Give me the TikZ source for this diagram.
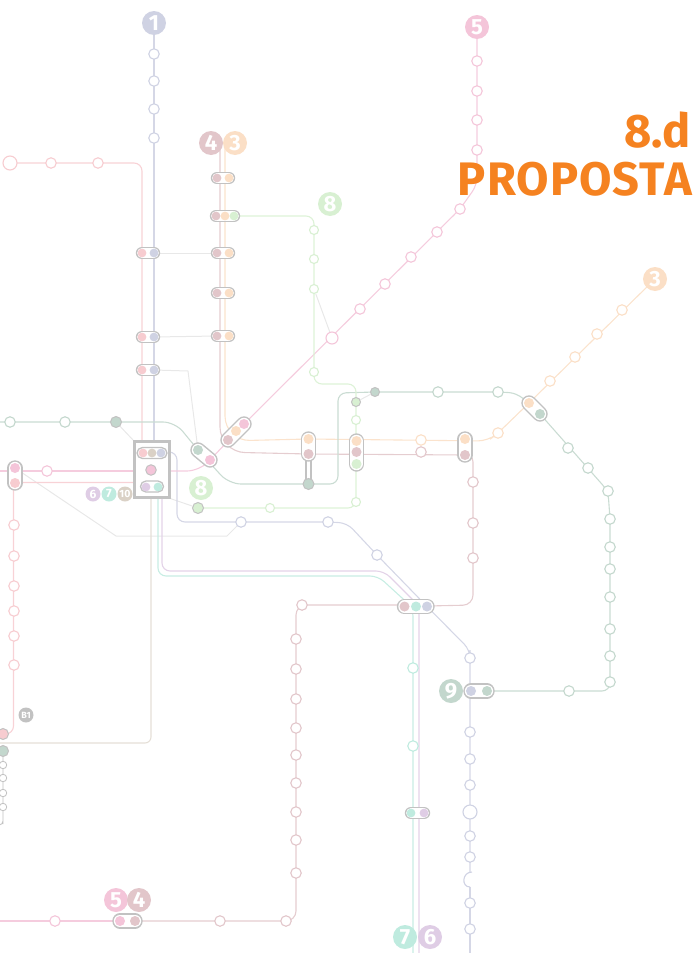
\documentclass[tikz,border=0pt]{standalone}
\usepackage{fontspec}
\setmainfont{Fira Sans}
\definecolor{lav}{HTML}{CFD2E3}
\definecolor{red}{HTML}{F7CCD0}
\definecolor{pea}{HTML}{FBDFC6}
\definecolor{dus}{HTML}{E2C6CA}
\definecolor{pin}{HTML}{F4C5D9}
\definecolor{pur}{HTML}{DFCDE5}
\definecolor{min}{HTML}{BFEBDF}
\definecolor{gre}{HTML}{D8F0D2}
\definecolor{sag}{HTML}{C3D7CD}
\definecolor{tau}{HTML}{DAD1C6}
\definecolor{gry}{HTML}{E8E8E8}
\definecolor{cbd}{HTML}{C2C2C2}
\definecolor{ora}{HTML}{F58220}
\pgfdeclarelayer{lines}\pgfdeclarelayer{caps}
\pgfsetlayers{lines,caps,main}
\tikzset{
 x=1pt,y=-1pt,
 stn/.style={circle,draw=#1,fill=white,line width=1.1pt,minimum size=10.5pt,inner sep=0pt},
 bigstn/.style={stn=#1,minimum size=14pt},
 smallstn/.style={stn=#1,minimum size=9pt},
 dot/.style={circle,fill=#1,minimum size=10pt,inner sep=0pt},
 sdot/.style={circle,fill=#1,minimum size=8.8pt,inner sep=0pt},
 gdot/.style={circle,fill=#1,draw=cbd,line width=1pt,minimum size=11pt,inner sep=0pt},
 badge/.style={circle,fill=#1,text=white,minimum size=24pt,inner sep=0pt,font=\fontsize{22}{22}\selectfont\bfseries},
 minibadge/.style={circle,fill=#1,text=white,minimum size=15pt,inner sep=0pt,font=\fontsize{12}{12}\selectfont\bfseries},
 lin/.style={draw=#1!88!white,line width=1.1pt,rounded corners=8pt},
 conn/.style={draw=gry,line width=1pt},
}
\newcommand\tubecap[2]{\begin{pgfonlayer}{caps}
 \draw[cbd,line width=15.4pt,line cap=round] (#1.center)--(#2.center);
 \draw[white,line width=12.4pt,line cap=round] (#1.center)--(#2.center);
\end{pgfonlayer}}
\newcommand\tubesmall[2]{\begin{pgfonlayer}{caps}
 \draw[cbd,line width=12.4pt,line cap=round] (#1.center)--(#2.center);
 \draw[white,line width=9.8pt,line cap=round] (#1.center)--(#2.center);
\end{pgfonlayer}}
\begin{document}
\begin{tikzpicture}
\useasboundingbox (0,0) rectangle (696,953);
% title
\node[anchor=east,text=ora,font=\fontsize{47}{47}\selectfont\bfseries,inner sep=0pt] (t1) at (691,130) {8.d};
\node[anchor=east,text=ora,font=\fontsize{47}{47}\selectfont\bfseries,inner sep=0pt] (t2) at (692,179) {\addfontfeature{LetterSpace=2.3}PROPOSTA};
% badges
\node[badge=lav] (b1) at (154,23) {1};
\node[badge=pin] (b5t) at (477,27) {5};
\node[badge=dus] (b4t) at (211,143) {4};
\node[badge=pea] (b3t) at (235,143) {3};
\node[badge=gre] (b8t) at (330,204) {8};
\node[badge=pea] (b3r) at (655,279) {3};
\node[badge=gre] (b8m) at (201,488) {8};
\node[badge=sag] (b9) at (451,691) {9};
\node[badge=pin] (b5b) at (116,900) {5};
\node[badge=dus] (b4b) at (139,900) {4};
\node[badge=min] (b7) at (405,937) {7};
\node[badge=pur] (b6) at (430,937) {6};
\node[minibadge=pur] (m6) at (93,494) {6};
\node[minibadge=min] (m7) at (109,494) {7};
\node[minibadge=tau,font=\fontsize{10.5}{10.5}\selectfont\bfseries] (m10) at (125,494) {10};
\node[minibadge=cbd,font=\fontsize{9}{9}\selectfont\bfseries] (mb1) at (26,715) {B1};
% line 1 stations
\foreach \n/\y in {a/54,b/81,c/109,d/138}{\node[stn=lav] (l1\n) at (154,\y) {};}
\node[stn=lav] (l1e) at (241,522) {};
\node[stn=lav] (l1f) at (328,522) {};
\node[stn=lav] (l1g) at (377,555) {};
\node[stn=lav] (l1h) at (470,658) {};
\foreach \n/\y in {i/732,j/759,k/785,m/836,o/857,p/903,q/929}{\node[stn=lav] (l1\n) at (470,\y) {};}
\node[bigstn=lav] (l1l) at (470,812) {};
% line 2
\node[bigstn=red] (l2a) at (10,163) {};
\node[stn=red] (l2b) at (51,163) {};
\node[stn=red] (l2c) at (98,163) {};
\foreach \n/\y in {d/525,e/556,f/586,g/611,h/636,i/665}{\node[stn=red] (l2\n) at (14,\y) {};}
\node[gdot=red] (l2j) at (3,734) {};
% line 5
\foreach \n/\x/\y in {a/477/61,b/477/91,c/477/120,d/477/150,e/460/209,f/437/232,g/411/257,h/385/284,i/360/309}{\node[stn=pin] (l5\n) at (\x,\y) {};}
\node[stn=pin,minimum size=12pt] (l5j) at (332,338) {};
\node[stn=pin] (l5k) at (47,471) {};
\node[stn=pin] (l5l) at (55,921) {};
% line 4
\foreach \n/\x/\y in {a/220/921,b/286/921,c/296/873,d/296/840,e/296/812,f/296/783,g/296/755,h/296/728,i/296/699,j/296/669,k/296/639,l/302/605,m/473/558,n/473/523,o/473/482,p/421/452}{\node[stn=dus] (l4\n) at (\x,\y) {};}
% line 3
\foreach \n/\x/\y in {a/421/440,b/498/433,c/550/381,d/575/357,e/597/334,f/622/310}{\node[stn=pea] (l3\n) at (\x,\y) {};}
% line 9
\foreach \n/\x/\y in {a/10/422,b/65/422,c/438/392,d/498/392,e/568/448,f/588/468,g/608/491,h/610/519,i/610/547,j/610/569,k/610/597,l/610/629,m/610/656,n/610/682,o/569/691}{\node[stn=sag] (l9\n) at (\x,\y) {};}
\node[gdot=sag] (l9p) at (116,422) {};
\node[gdot=sag,minimum size=9pt] (l9q) at (375,392) {};
% line 8
\node[smallstn=gre] (l8a) at (314,230) {};
\node[smallstn=gre] (l8b) at (314,259) {};
\node[smallstn=gre] (l8c) at (314,289) {};
\node[smallstn=gre] (l8d) at (314,372) {};
\node[gdot=gre,minimum size=9pt] (l8e) at (356,402) {};
\node[smallstn=gre] (l8f) at (356,420) {};
\node[smallstn=gre] (l8g) at (356,502) {};
\node[smallstn=gre] (l8h) at (270,508) {};
\node[gdot=gre] (l8i) at (198,508) {};
% line 7
\node[stn=min] (l7a) at (413,668) {};
\node[stn=min] (l7b) at (413,746) {};
% bottom-left cluster
\node[gdot=sag] (cla) at (3,751) {};
\foreach \n/\y in {b/765,c/778,d/793,e/807}{\node[circle,draw=cbd,fill=white,line width=.8pt,minimum size=7.5pt,inner sep=0pt] (cl\n) at (3,\y) {};}
% capsules
\node[sdot=dus] (k1a) at (217,178) {}; \node[sdot=pea] (k1b) at (229,178) {}; \tubesmall{k1a}{k1b}
\node[sdot=dus] (k2a) at (216,216) {}; \node[sdot=pea] (k2b) at (225,216) {}; \node[sdot=gre] (k2c) at (234,216) {}; \tubesmall{k2a}{k2c}
\node[sdot=dus] (k3a) at (217,253) {}; \node[sdot=pea] (k3b) at (229,253) {}; \tubesmall{k3a}{k3b}
\node[sdot=dus] (k4a) at (217,293) {}; \node[sdot=pea] (k4b) at (229,293) {}; \tubesmall{k4a}{k4b}
\node[sdot=dus] (k5a) at (217,336) {}; \node[sdot=pea] (k5b) at (229,336) {}; \tubesmall{k5a}{k5b}
\node[sdot=red] (k6a) at (142,253) {}; \node[sdot=lav] (k6b) at (154,253) {}; \tubesmall{k6a}{k6b}
\node[sdot=red] (k7a) at (142,337) {}; \node[sdot=lav] (k7b) at (154,337) {}; \tubesmall{k7a}{k7b}
\node[sdot=red] (k8a) at (142,370) {}; \node[sdot=lav] (k8b) at (154,370) {}; \tubesmall{k8a}{k8b}
\node[dot=dus] (k9a) at (228,440) {}; \node[dot=pea] (k9b) at (236,431) {}; \node[dot=pin] (k9c) at (244,424) {}; \tubecap{k9a}{k9c}
\node[dot=sag] (k10a) at (198,450) {}; \node[dot=pin] (k10b) at (210,460) {}; \tubecap{k10a}{k10b}
\node[dot=pea] (k11a) at (308.5,439) {}; \node[dot=dus] (k11b) at (308.5,454) {}; \tubecap{k11a}{k11b}
\node[dot=pea] (k12a) at (356.5,441) {}; \node[dot=dus] (k12b) at (356.5,452) {}; \node[dot=gre] (k12c) at (356.5,464) {}; \tubecap{k12a}{k12c}
\node[dot=pea] (k13a) at (465,439) {}; \node[dot=dus] (k13b) at (465,455) {}; \tubecap{k13a}{k13b}
\node[dot=pea] (k14a) at (529,403) {}; \node[dot=sag] (k14b) at (540,414) {}; \tubecap{k14a}{k14b}
\node[dot=pin] (k15a) at (15,468) {}; \node[dot=red] (k15b) at (15,483) {}; \tubecap{k15a}{k15b}
\node[dot=dus] (k16a) at (404.5,606.5) {}; \node[dot=min] (k16b) at (416,606.5) {}; \node[dot=lav] (k16c) at (427,606.5) {}; \tubecap{k16a}{k16c}
\node[dot=lav] (k17a) at (471,691) {}; \node[dot=sag] (k17b) at (487,691) {}; \tubecap{k17a}{k17b}
\node[sdot=min] (k18a) at (411,813) {}; \node[sdot=pur] (k18b) at (424,813) {}; \tubesmall{k18a}{k18b}
\node[dot=pin] (k19a) at (120,921) {}; \node[dot=dus] (k19b) at (135,921) {}; \tubecap{k19a}{k19b}
\node[gdot=sag] (k20) at (308.5,484) {};
% central box
\node[draw=cbd,fill=white,line width=2.3pt,minimum width=35pt,minimum height=56pt,inner sep=0pt] (box) at (152,469.5) {};
\draw[cbd,fill=white,line width=1.3pt,rounded corners=5.5pt] (137,447.5) rectangle (167,458.5);
\draw[cbd,fill=white,line width=1.3pt,rounded corners=5.5pt] (140.5,481) rectangle (163.5,492);
\node[sdot=red] (ba) at (143,453) {}; \node[sdot=tau] (bb) at (152,453) {}; \node[sdot=lav] (bc) at (161,453) {};
\node[gdot=pin,minimum size=10.5pt] (bd) at (151,470) {};
\node[sdot=pur] (be) at (146,487) {}; \node[sdot=min] (bf) at (158,487) {};
% connectors
\begin{pgfonlayer}{lines}
\coordinate (cp1) at (116,536); \coordinate (cp2) at (227,536);
\coordinate (cp3) at (188,371);
\draw[conn] (l9p) -- (box.north west);
\draw[conn] (box.south east) -- (l8i);
\draw[conn] (l8c) -- (l5j);
\draw[conn] (k8b) -- (cp3) -- (k10a);
\draw[conn] (k6b) -- (k3a);
\draw[conn] (k7b) -- (k5a);
\draw[conn] (l8e) -- (l9q);
\draw[conn] (k15a) -- (cp1) -- (cp2) -- (l1e);
\draw[cbd,line width=1.6pt] (306,455) -- (306,483);
\draw[cbd,line width=1.6pt] (311,455) -- (311,483);
% line 1
\draw[lin=lav] (b1.center) -- (154,441);
\draw[lin=lav] (170,452) -- (177,452) -- (177,522) -- (l1e.center) -- (l1f.center) -- (347,523) -- (l1g.center) -- (k16c.center) -- (470,650) -- (l1h.center) -- (470,872);
\draw[lin=lav] (470,887) -- (470,953);
\draw[draw=lav,line width=1.1pt] (472,872) .. controls (462,872) and (461,887) .. (470,887);
% line 2
\draw[lin=red] (l2a.center) -- (142,163) -- (142,441);
\draw[lin=red] (134,482.5) -- (15,482.5) -- (13.5,482.5) -- (13.5,734) -- (l2j.center);
% line 5
\draw[lin=pin] (b5t.center) -- (477,185) -- (l5e.center) -- (k9c.center) -- (k10b.center);
\draw[lin=pin,rounded corners=12pt] (k10b.center) -- (199,471) -- (170,471);
\draw[lin=pin] (0,471) -- (134,471);
\draw[lin=pin] (0,921) -- (k19a.center);
% line 4
\draw[lin=dus,rounded corners=10pt] (k19b.center) -- (296,921) -- (296,605) -- (404,605);
\draw[lin=dus,rounded corners=10pt] (k16a.center) -- (473,605) -- (473,452) -- (k13b.center);
\draw[lin=dus,rounded corners=25pt] (220,143) -- (220,452) -- (k11b.center);
\draw[lin=dus] (k11b.center) -- (k13b.center);
% line 3
\draw[lin=pea,rounded corners=25pt] (225,143) -- (225,441) -- (k11a.center);
\draw[lin=pea,rounded corners=10pt] (k11a.center) -- (488,441) -- (l3b.center) -- (k14a.center) -- (b3r.center);
% line 9
\draw[lin=sag,rounded corners=12pt] (0,422) -- (175,422) -- (k10a.center) -- (229,484) -- (k20.center);
\draw[lin=sag] (k20.center) -- (338,484) -- (338,393) -- (l9q.center) -- (l9d.center) -- (517,393) -- (k14b.center) -- (l9g.center) -- (610,519) -- (610,691) -- (k17b.center);
% line 8
\draw[lin=gre] (k2c.center) -- (314,216) -- (314,384) -- (356,384) -- (356,508) -- (l8i.center);
% line 7, 6, 10
\draw[lin=min] (158,492) -- (158,576) -- (378,576) -- (413,608) -- (413,953);
\draw[lin=pur] (162,492) -- (162,571) -- (384,571) -- (419,606) -- (419,953);
\draw[draw=tau!70!white,line width=1.1pt,rounded corners=6pt] (151,498) -- (151,743) -- (0,743);
% cluster
\draw[draw=cbd,line width=.8pt,rounded corners=4pt] (cla.center) -- (3,820) -- (3,825) -- (0,825);
\end{pgfonlayer}
\end{tikzpicture}
\end{document}
